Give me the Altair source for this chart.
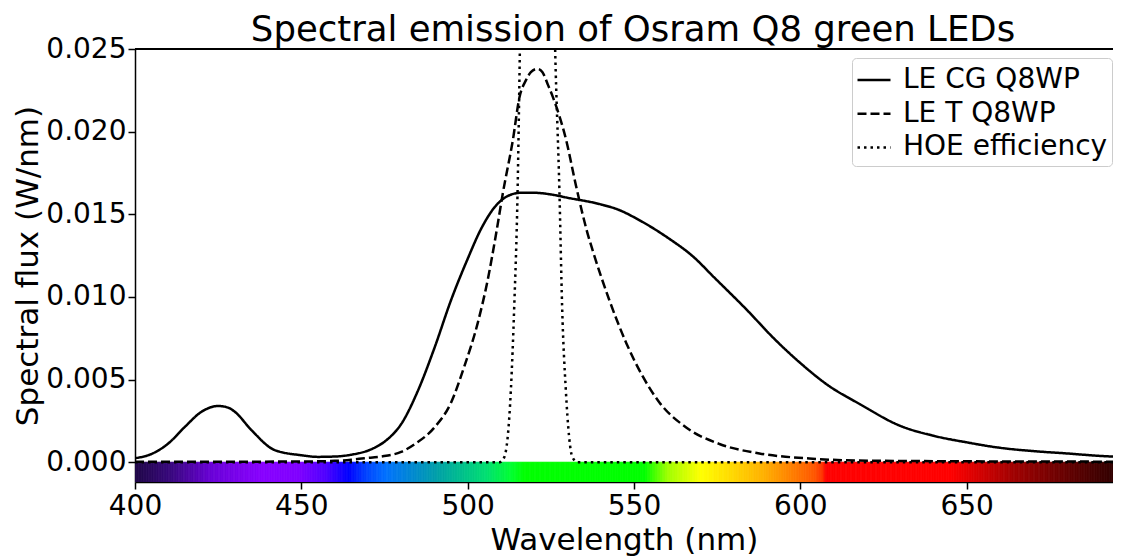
import altair as alt
import pandas as pd

# ---------------- data ----------------
series_names = ["LE CG Q8WP", "LE T Q8WP", "HOE efficiency"]

wl_cg = [400, 405, 410, 415, 420, 425, 428, 430, 435, 442, 450, 455, 460, 465, 471, 476,
         480, 485, 490, 495, 500, 504, 508, 512, 516, 520, 525, 530, 540, 545, 552, 560,
         568, 574, 584, 592, 600, 608, 618, 630, 640, 650, 660, 670, 680, 690, 696]
flux_cg = [0.00024, 0.0005, 0.00113, 0.00214, 0.00305, 0.0034, 0.0033, 0.00305, 0.00194,
           0.00073, 0.00042, 0.00032, 0.00034, 0.00045, 0.00078, 0.0014, 0.0023, 0.0043,
           0.0069, 0.0098, 0.0123, 0.0141, 0.0154, 0.0161, 0.0163, 0.0163, 0.0162, 0.0160,
           0.0156, 0.0153, 0.0146, 0.0136, 0.0124, 0.0112, 0.0092, 0.0075, 0.0060, 0.0047,
           0.0035, 0.0022, 0.0016, 0.0012, 0.00087, 0.00067, 0.00053, 0.00038, 0.00032]

wl_t = [400, 430, 450, 460, 465, 469, 474, 480, 484, 490, 495, 499, 503, 506, 508.7,
        510.6, 513.6, 515.6, 517.5, 519, 521, 522.5, 524, 525.6, 529.6, 532.6, 536.1,
        537.6, 542.6, 547.7, 552.6, 557.7, 565.7, 575.7, 587.7, 602.7, 617, 640, 670, 696]
flux_t = [0.00003, 0.00003, 0.00004, 0.00008, 0.00015, 0.00024, 0.00034, 0.00062, 0.00108,
          0.0021, 0.0036, 0.0058, 0.0084, 0.0110, 0.0140, 0.0163, 0.0195, 0.0221, 0.0231,
          0.0236, 0.0238, 0.0236, 0.0229, 0.0221, 0.0195, 0.0167, 0.0138, 0.0128, 0.0098,
          0.0072, 0.0052, 0.0036, 0.0021, 0.0011, 0.00053, 0.00022, 0.0001, 0.00006,
          0.00004, 0.00003]

wl_hoe = [400, 509.6, 511.0, 513.0, 514.0, 515.0, 515.7, 517, 520.5, 524.5, 526.3, 527.6,
          528.4, 529.5, 531.5, 533.1, 696]
eff_hoe = [0, 0, 0.0003, 0.0044, 0.0094, 0.0163, 0.025, 0.045, 0.055, 0.045, 0.025,
           0.0163, 0.0094, 0.0044, 0.0003, 0, 0]

# colour stops of the spectrum strip under the curves
spec_stops = [400, 411, 423, 438, 449, 457, 464, 469, 475, 490.6, 505.7, 513, 517,
              553, 560, 570, 589, 604, 606.6, 607.5, 645, 664, 696]
spec_colors = ["#200848", "#3a0880", "#6a00d8", "#8800ff", "#8000ff", "#5000ff",
               "#0000ff", "#0040ff", "#0070ff", "#00a0a8", "#00e070", "#00ff30",
               "#00ff00", "#00ff00", "#a0ff00", "#ffff00", "#ffb000", "#ff5800",
               "#ff3000", "#ff0000", "#ff0000", "#a00000", "#2a0000"]
strip_bottom = -0.0012

x_ticks = [400, 450, 500, 550, 600, 650]
y_ticks = [0.0, 0.005, 0.010, 0.015, 0.020, 0.025]
x_domain = [400, 694]
y_domain = [strip_bottom, 0.025]

# ---------------- tables ----------------
rows = []
for name, xs, ys in zip(series_names, [wl_cg, wl_t, wl_hoe], [flux_cg, flux_t, eff_hoe]):
    for w, f in zip(xs, ys):
        rows.append({"wl": w, "flux": f, "series": name})
lines_df = pd.DataFrame(rows)

step = 0.5
grid = [400 + i * step for i in range(int((696 - 400) / step))]
spec_df = pd.DataFrame({"wl": grid})
spec_df["wl2"] = spec_df["wl"] + step
spec_df["y0"] = strip_bottom
spec_df["y1"] = 0.0

FONT = "DejaVu Sans"
xscale = alt.Scale(domain=x_domain, nice=False, zero=False)
yscale = alt.Scale(domain=y_domain, nice=False, zero=False)
spec_scale = alt.Scale(domain=spec_stops, range=spec_colors, interpolate="rgb")

strip = alt.Chart(spec_df).mark_rect(clip=True, strokeWidth=0.8).encode(
    x=alt.X("wl:Q", scale=xscale,
            axis=alt.Axis(values=x_ticks, format="d", title="Wavelength (nm)",
                          labelFlush=False, labelPadding=3,
                          titleY=67, titleBaseline="alphabetic")),
    x2="wl2:Q",
    y=alt.Y("y0:Q", scale=yscale,
            axis=alt.Axis(values=y_ticks, format=".3f", title="Spectral flux (W/nm)",
                          labelPadding=2, labelFlush=False,
                          titleX=-107, titleY=216.5, titleAngle=270,
                          titleAlign="center", titleBaseline="middle")),
    y2="y1:Q",
    color=alt.Color("wl:Q", scale=spec_scale, legend=None),
    stroke=alt.Stroke("wl:Q", scale=spec_scale, legend=None),
)

lines = alt.Chart(lines_df).mark_line(clip=True, color="black", strokeWidth=2.5,
                                      interpolate="monotone").encode(
    x=alt.X("wl:Q", scale=xscale),
    y=alt.Y("flux:Q", scale=yscale),
    strokeDash=alt.StrokeDash(
        "series:N",
        scale=alt.Scale(domain=series_names, range=[[1, 0], [9, 4], [2.5, 4]]),
        sort=series_names,
        legend=alt.Legend(
            title=None, orient="none", legendX=717, legendY=9,
            symbolType="stroke", symbolSize=1089, symbolStrokeWidth=2.5,
            symbolStrokeColor="black", labelFontSize=28, labelFont=FONT,
            labelColor="black", labelOffset=11, rowPadding=1.7, padding=4,
            strokeColor="#cccccc", fillColor="white", cornerRadius=4,
            labelLimit=400,
        ),
    ),
)

top_spine = alt.Chart(lines_df).mark_rule(color="black", strokeWidth=1.3).encode(
    y=alt.value(0)
)

chart = alt.layer(strip, lines, top_spine).properties(
    width=978,
    height=433,
    title=alt.TitleParams("Spectral emission of Osram Q8 green LEDs", fontSize=35.5,
                          font=FONT, fontWeight="normal", color="black",
                          anchor="middle", offset=4, dy=17, dx=9),
    autosize=alt.AutoSizeParams(type="none"),
    padding={"left": 127, "top": 41, "right": 0, "bottom": 74},
).configure_view(stroke=None).configure_axis(
    labelFont=FONT, titleFont=FONT, labelFontSize=28, titleFontSize=31,
    titleFontWeight="normal", labelColor="black", titleColor="black",
    domainColor="black", tickColor="black", domainWidth=1.5, tickWidth=1.5,
    tickSize=7, grid=False,
)

chart.save("out.html", embed_options={"renderer": "svg", "actions": False})
